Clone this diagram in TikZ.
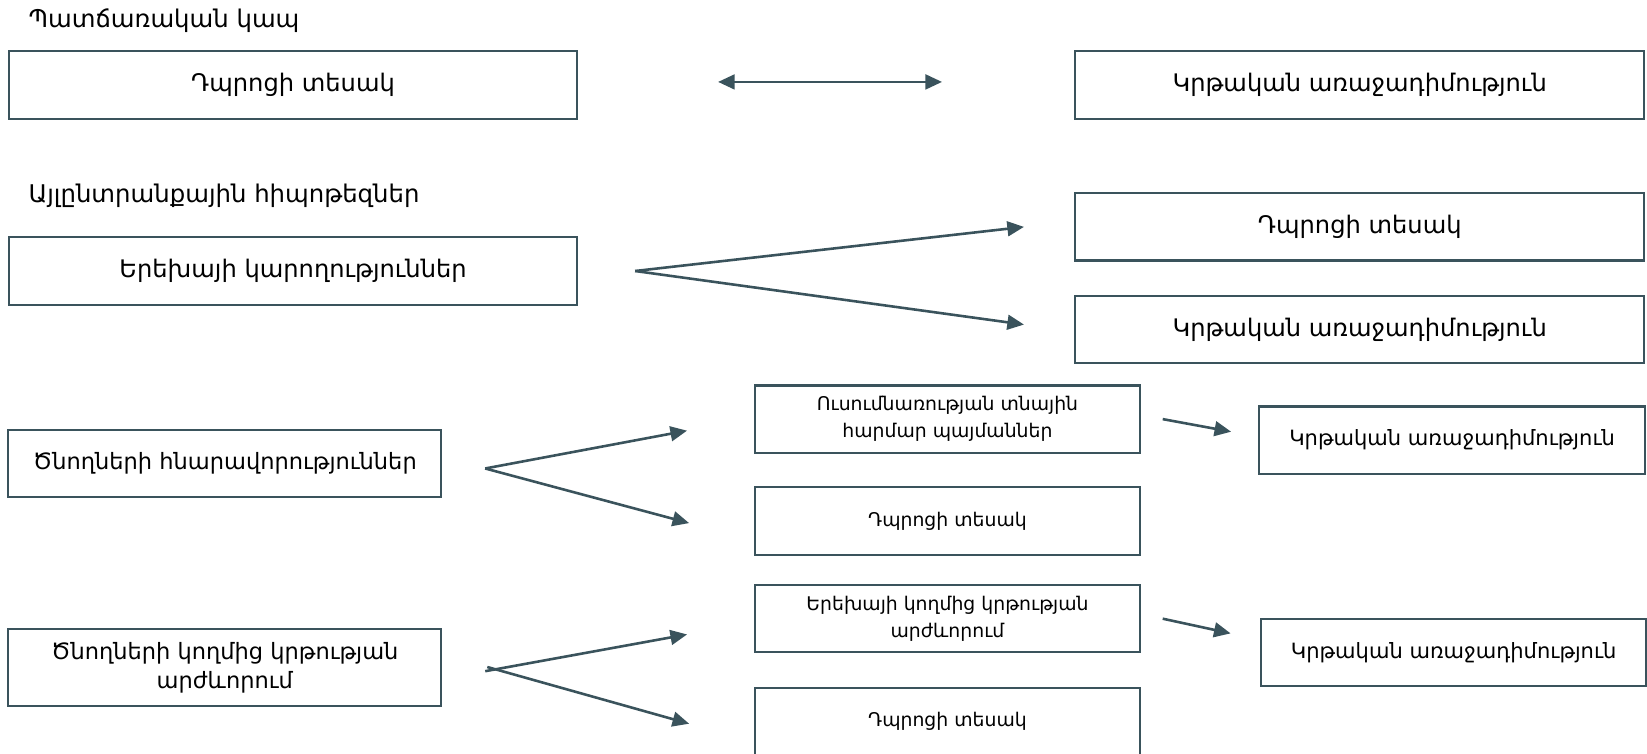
\documentclass[tikz,border=0pt]{standalone}
\usepackage{fontspec}
\setmainfont{DejaVu Sans}
\usetikzlibrary{arrows.meta}
\definecolor{slate}{HTML}{3A535C}

\begin{document}
\begin{tikzpicture}[x=0.02cm,y=-0.02cm,
    box/.style={draw=slate,line width=1.1pt,minimum height=1.28cm,inner sep=2pt,align=center},
    big/.style={box,minimum width=10.83cm,font=\fontsize{13.1}{16}\selectfont},
    mid/.style={box,minimum width=8.24cm,font=\fontsize{12.2}{15.5}\selectfont},
    small/.style={box,minimum width=7.32cm,font=\fontsize{10.2}{14.7}\selectfont},
    res/.style={box,minimum width=7.34cm,font=\fontsize{11.4}{15}\selectfont},
    head/.style={anchor=west,inner sep=0pt,font=\fontsize{13.2}{16}\selectfont},
    link/.style={draw=slate,line width=1.4pt,-{Triangle[length=9pt,width=8pt]}}]
            \useasboundingbox (0,0) rectangle (1568,717);
            \node[head] (t1) at (27,20) {Պատճառական կապ};
            \node[big] (A) at (279,81) {Դպրոցի տեսակ};
            \node[big] (B) at (1294.5,81) {Կրթական առաջադիմություն};
            \draw[link,{Triangle[length=9pt,width=8pt]}-{Triangle[length=9pt,width=8pt]}] ([xshift=2.66cm,yshift=0.06cm]A.east) -- ([xshift=-2.52cm,yshift=0.06cm]B.west);
            \node[head] (t2) at (27,186) {Այլընտրանքային հիպոթեզներ};
            \node[big] (C) at (279,258) {Երեխայի կարողություններ};
            \node[big] (D) at (1294.5,216) {Դպրոցի տեսակ};
            \node[big] (E) at (1294.5,314) {Կրթական առաջադիմություն};
            \draw[link] ([xshift=1.08cm]C.east) -- ([xshift=-0.96cm]D.west);
            \draw[link] ([xshift=1.08cm]C.east) -- ([xshift=-0.96cm,yshift=0.1cm]E.west);
            \node[mid] (F) at (214,441) {Ծնողների հնարավորություններ};
            \node[small] (G) at (902,399) {Ուսումնառության տնային\\հարմար պայմաններ};
            \node[small] (H) at (902,496) {Դպրոցի տեսակ};
            \node[res] (I) at (1382.5,419) {Կրթական առաջադիմություն};
            \draw[link] ([xshift=0.82cm,yshift=-0.1cm]F.east) -- ([xshift=-1.28cm,yshift=-0.22cm]G.west);
            \draw[link] ([xshift=0.82cm,yshift=-0.1cm]F.east) -- ([xshift=-1.24cm,yshift=-0.04cm]H.west);
            \draw[link] ([xshift=0.42cm]G.east) -- ([xshift=-0.52cm,yshift=0.16cm]I.west);
            \node[mid,minimum height=1.46cm] (J) at (214,635.5) {Ծնողների կողմից կրթության\\արժևորում};
            \node[small] (K) at (902,589) {Երեխայի կողմից կրթության\\արժևորում};
            \node[small] (L) at (902,687) {Դպրոցի տեսակ};
            \node[res] (M) at (1384,621) {Կրթական առաջադիմություն};
            \draw[link] ([xshift=0.82cm,yshift=-0.07cm]J.east) -- ([xshift=-1.28cm,yshift=-0.3cm]K.west);
            \draw[link] ([xshift=0.86cm,yshift=0.01cm]J.east) -- ([xshift=-1.24cm,yshift=-0.04cm]L.west);
            \draw[link] ([xshift=0.42cm]K.east) -- ([xshift=-0.56cm,yshift=0.36cm]M.west);
        \end{tikzpicture}
\end{document}
